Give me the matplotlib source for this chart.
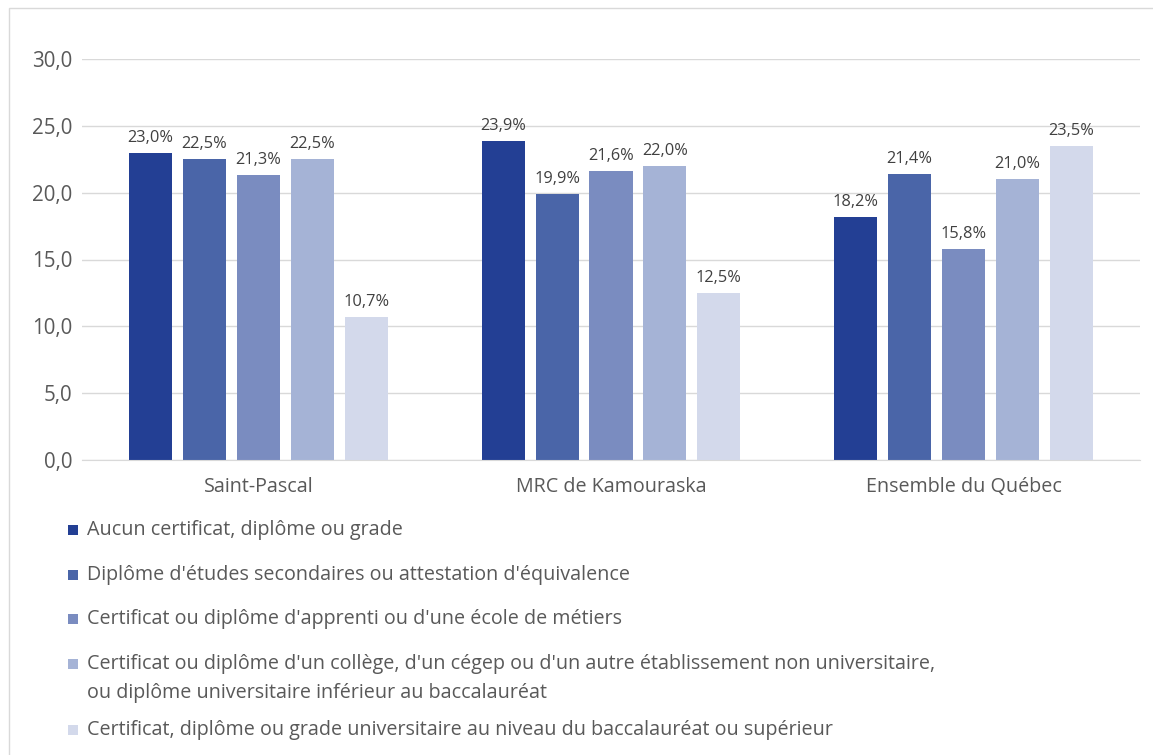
import matplotlib
matplotlib.use("Agg")
import matplotlib.pyplot as plt
from matplotlib.patches import Rectangle
import numpy as np

categories = ["Saint-Pascal", "MRC de Kamouraska", "Ensemble du Québec"]
series_names = [
    "Aucun certificat, diplôme ou grade",
    "Diplôme d'études secondaires ou attestation d'équivalence",
    "Certificat ou diplôme d'apprenti ou d'une école de métiers",
    "Certificat ou diplôme d'un collège, d'un cégep ou d'un autre établissement non universitaire,\nou diplôme universitaire inférieur au baccalauréat",
    "Certificat, diplôme ou grade universitaire au niveau du baccalauréat ou supérieur",
]
aucun = [23.0, 23.9, 18.2]
secondaire = [22.5, 19.9, 21.4]
apprenti = [21.3, 21.6, 15.8]
college = [22.5, 22.0, 21.0]
universitaire = [10.7, 12.5, 23.5]
series_values = [aucun, secondaire, apprenti, college, universitaire]
yticks = [0, 5, 10, 15, 20, 25, 30]
colors = ["#233F94", "#4A65A8", "#7A8CC0", "#A5B3D6", "#D3D9EB"]

plt.rcParams['font.family'] = ['Open Sans', 'DejaVu Sans']

W, H = 1153, 755
fig = plt.figure(figsize=(W / 100, H / 100), dpi=100)
ax = fig.add_axes([82 / W, 1 - 460 / H, (1140 - 82) / W, (460 - 59) / H])

# border
fig.patches.append(Rectangle((9 / W, -0.01), 1.2, 1 - 8 / H + 0.01, transform=fig.transFigure,
                             fill=False, edgecolor="#D9D9D9", linewidth=1))

x = np.arange(len(categories))
bw = 0.122
step = 0.153
for i, (vals, col) in enumerate(zip(series_values, colors)):
    pos = x + (i - 2) * step
    bars = ax.bar(pos, vals, width=bw, color=col, zorder=3)
    for b, v in zip(bars, vals):
        ax.annotate(f"{v:.1f}%".replace(".", ","), (b.get_x() + b.get_width() / 2, v),
                    xytext=(0, 5), textcoords="offset points", ha="center", va="bottom",
                    fontsize=11.8, color="#404040")

ax.set_xlim(-0.5, 2.5)
ax.set_ylim(0, 30)
ax.set_yticks(yticks)
ax.set_yticklabels([f"{t:.1f}".replace(".", ",") for t in yticks], fontsize=14.8, color="#595959")
ax.set_xticks(x)
ax.set_xticklabels(categories, fontsize=14.2, color="#595959")
ax.tick_params(axis="both", length=0)
ax.tick_params(axis="y", pad=7)
ax.tick_params(axis="x", pad=12)
ax.grid(axis="y", color="#D9D9D9", linewidth=1, zorder=0)
for s in ["top", "right", "left"]:
    ax.spines[s].set_visible(False)
ax.spines["bottom"].set_color("#D9D9D9")
ax.spines["bottom"].set_zorder(4)

# legend
rows_y = [530, 575, 619, 664, 730]
for name, col, yy in zip(series_names, colors, rows_y):
    fig.patches.append(Rectangle((68 / W, 1 - (yy + 5) / H), 10 / W, 10 / H,
                                 transform=fig.transFigure, facecolor=col, edgecolor="none"))
    lines = name.split("\n")
    for k, line in enumerate(lines):
        fig.text(87 / W, 1 - (yy + 5 + 29 * k) / H, line, fontsize=14.2, color="#595959",
                 ha="left", va="baseline")

fig.savefig("out.png", dpi=100)
